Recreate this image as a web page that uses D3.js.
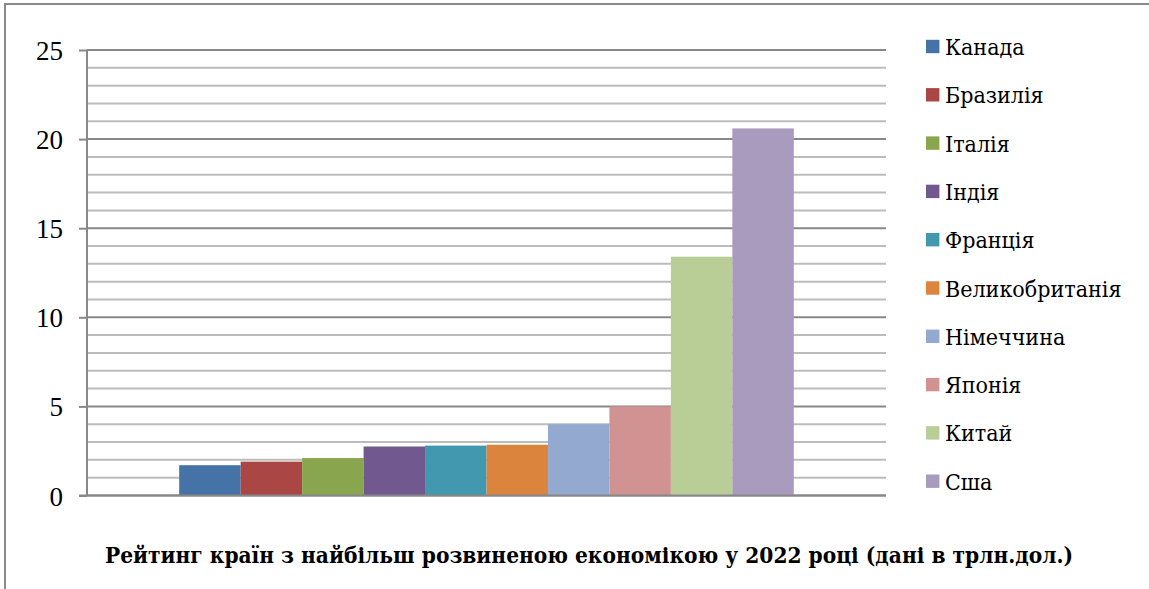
<!DOCTYPE html>
<html><head><meta charset="utf-8">
<script src="https://cdn.jsdelivr.net/npm/d3@7"></script>
<style>body{margin:0;background:#fff}svg{display:block}
svg text{font-family:"DejaVu Serif Condensed","DejaVu Serif",serif;}
svg .tick text{font-family:"Liberation Serif","DejaVu Serif",serif;}
</style>
</head><body>
<svg id="c" width="1149" height="589"></svg>
<script>
const countries = ["Канада","Бразилія","Італія","Індія","Франція","Великобританія","Німеччина","Японія","Китай","Сша"];
const values = [1.7, 1.9, 2.1, 2.75, 2.8, 2.85, 4.0, 5.0, 13.4, 20.6];
const colors = ["#4572A7","#AA4643","#89A54E","#71588F","#4198AF","#DB843D","#93A9CF","#D19392","#B9CD96","#A99BBD"];
const yTicks = [0,5,10,15,20,25];
const title = "Рейтинг країн з найбільш розвиненою економікою у 2022 році (дані в трлн.дол.)";

const svg = d3.select("#c");

// outer frame
svg.append("rect").attr("x",5).attr("y",4).attr("width",1200).attr("height",700)
  .attr("fill","none").attr("stroke","#8a8a8a").attr("stroke-width",2);

const L=87, R=886, T=50, B=495.5;
const y = d3.scaleLinear().domain([0,25]).range([B,T]);
const x = d3.scaleBand().domain(["g"]).range([L,R]).paddingInner(0).paddingOuter(0);
const inner = d3.scaleBand().domain(countries).range([L + x.bandwidth()*1.5/13, R - x.bandwidth()*1.5/13]);

// gridlines
const minor = d3.range(0,26,1);
svg.append("g").selectAll("line").data(minor).join("line")
  .attr("x1",L).attr("x2",R).attr("y1",d=>y(d)).attr("y2",d=>y(d))
  .attr("stroke",d=>d%5===0?"#888":"#bcbcbc").attr("stroke-width",2);

// bars
svg.append("g").selectAll("rect").data(countries).join("rect")
  .attr("x",d=>inner(d)).attr("width",inner.bandwidth())
  .attr("y",(d,i)=>y(values[i])).attr("height",(d,i)=>B-y(values[i]))
  .attr("fill",(d,i)=>colors[i]);

// y axis
const axis = d3.axisLeft(y).tickValues(yTicks).tickSize(8).tickPadding(16).tickFormat(d3.format("d"));
const ag = svg.append("g").attr("transform",`translate(${L},0)`).call(axis);
ag.attr("font-family",null);
ag.select(".domain").attr("stroke","#888").attr("stroke-width",2).attr("d",`M0,${T}V${B}`);
ag.selectAll(".tick line").attr("stroke","#888").attr("stroke-width",2);
ag.selectAll(".tick text").style("font-size","27px").attr("fill","#000")
  .attr("dy",null).attr("y",9.5);
// zero baseline over bars
svg.append("line").attr("x1",L-8).attr("x2",R).attr("y1",B).attr("y2",B).attr("stroke","#888").attr("stroke-width",2);

// legend
const lg = svg.append("g");
const items = lg.selectAll("g").data(countries).join("g")
  .attr("transform",(d,i)=>`translate(926,${46.5 + i*48.3})`);
items.append("rect").attr("x",0).attr("y",-6.7).attr("width",13.4).attr("height",13.4).attr("fill",(d,i)=>colors[i]);
const lt = items.append("text").attr("x",19).attr("y",8.5).style("font-size","23px").attr("fill","#000").text(d=>d);
lt.each(function(){ if (this.getComputedTextLength() > 183) d3.select(this).attr("textLength",182).attr("lengthAdjust","spacingAndGlyphs"); });

// title
const tt = svg.append("text").attr("x",589).attr("y",563).attr("text-anchor","middle")
  .style("font-weight","bold").style("font-size","23px").attr("fill","#000").text(title);
if (tt.node().getComputedTextLength() > 968) tt.attr("textLength",968).attr("lengthAdjust","spacingAndGlyphs");
</script>
</body></html>
